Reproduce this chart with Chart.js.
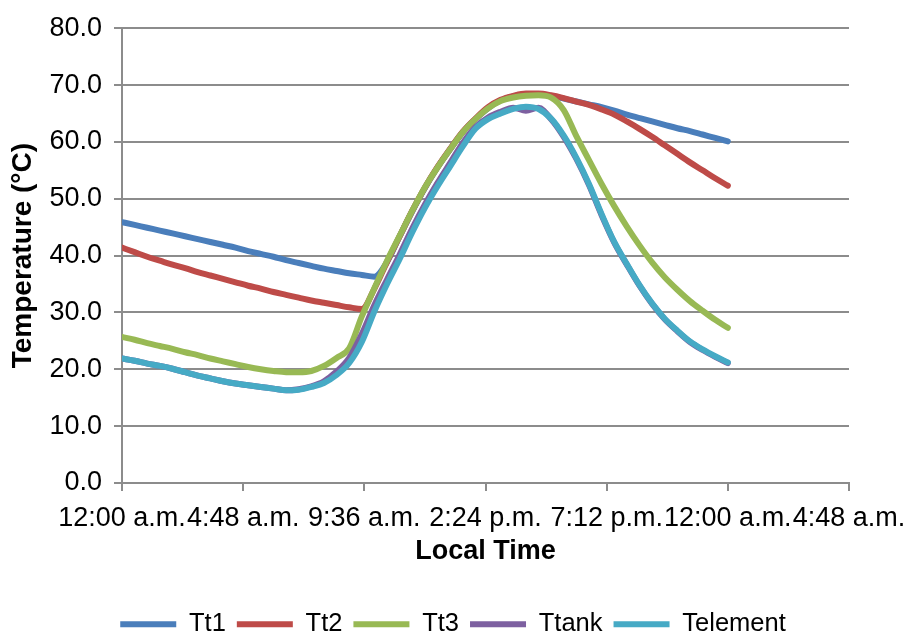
<!DOCTYPE html>
<html>
<head>
<meta charset="utf-8">
<title>Temperature vs Local Time</title>
<script src="https://cdn.jsdelivr.net/npm/chart.js@4/dist/chart.umd.min.js"></script>
<style>
  html, body { margin: 0; padding: 0; background: #ffffff; }
  canvas { display: block; }
</style>
</head>
<body>
<canvas id="chart" width="906" height="637"></canvas>
<script>
// Local time in hours since midnight
const hours = [
  0, 0.5, 1, 1.5, 2, 2.5, 3, 3.5, 4, 4.5, 5, 5.5, 6, 6.5, 7, 7.5, 8, 8.5, 9, 9.5,
  10, 10.5, 11, 11.5, 12, 12.5, 13, 13.5, 14, 14.5, 15, 15.5, 16, 16.5, 17, 17.5,
  18, 18.5, 19, 19.5, 20, 20.5, 21, 21.5, 22, 22.5, 23, 23.5, 24
];

// Temperatures (°C)
const tt1 = [
  45.9, 45.4, 44.9, 44.4, 43.9, 43.4, 42.9, 42.4, 41.9, 41.4, 40.8, 40.3, 39.8, 39.2, 38.7, 38.2, 37.7, 37.3, 36.9, 36.6,
  36.3, 38.9, 43.4, 47.8, 51.9, 55.5, 58.7, 61.7, 64.0, 65.9, 67.3, 68.0, 68.4, 68.4, 68.1, 67.6,
  67.1, 66.6, 66.1, 65.5, 64.8, 64.2, 63.6, 63.0, 62.4, 61.9, 61.3, 60.7, 60.1
];
const tt2 = [
  41.4, 40.6, 39.8, 39.1, 38.4, 37.8, 37.1, 36.5, 35.9, 35.3, 34.7, 34.2, 33.6, 33.1, 32.6, 32.1, 31.7, 31.3, 30.9, 30.6,
  34.2, 38.9, 43.4, 47.9, 52.0, 55.6, 58.8, 61.8, 64.1, 66.1, 67.4, 68.1, 68.5, 68.5, 68.2, 67.7,
  67.1, 66.5, 65.7, 64.8, 63.6, 62.3, 60.9, 59.4, 57.9, 56.4, 55.0, 53.6, 52.3
];
const tt3 = [
  25.7, 25.2, 24.6, 24.1, 23.6, 23.0, 22.5, 21.9, 21.4, 20.9, 20.4, 20.0, 19.7, 19.5, 19.5, 19.7, 20.6, 22.0, 23.7, 29.3,
  34.3, 39.1, 43.5, 47.9, 52.0, 55.5, 58.7, 61.7, 64.0, 65.9, 67.2, 67.8, 68.1, 68.2, 67.8, 65.6,
  61.0, 56.8, 52.6, 48.7, 45.1, 41.8, 38.8, 36.2, 34.0, 32.0, 30.3, 28.7, 27.3
];
const ttank = [
  21.9, 21.5, 21.0, 20.6, 20.1, 19.5, 18.9, 18.4, 17.9, 17.5, 17.2, 16.9, 16.6, 16.3, 16.5, 17.0, 17.9, 19.6, 22.0, 26.2,
  31.3, 35.8, 40.2, 44.8, 49.0, 52.8, 56.3, 59.8, 62.6, 64.3, 65.3, 66.0, 65.5, 66.0, 64.0, 60.9,
  57.0, 52.4, 47.1, 42.3, 38.4, 34.7, 31.5, 28.8, 26.7, 24.8, 23.4, 22.2, 21.1
];
const telement = [
  21.9, 21.5, 21.0, 20.6, 20.1, 19.5, 18.9, 18.4, 17.9, 17.5, 17.2, 16.9, 16.6, 16.3, 16.4, 16.9, 17.6, 19.0, 21.1, 24.8,
  30.2, 35.0, 39.4, 44.1, 48.4, 52.2, 55.7, 59.2, 62.3, 64.0, 65.0, 65.8, 66.2, 65.8, 64.1, 61.1,
  57.2, 52.6, 47.3, 42.4, 38.5, 34.8, 31.6, 28.9, 26.8, 24.9, 23.5, 22.3, 21.2
];

const seriesNames = ['Tt1', 'Tt2', 'Tt3', 'Ttank', 'Telement'];
const seriesValues = [tt1, tt2, tt3, ttank, telement];
const seriesColors = ['#4a7ebb', '#be4b48', '#98b954', '#7d60a0', '#46aac5'];

// Axis ticks: every 4 h 48 min on x, every 10 °C on y
const xTickHours = [0, 4.8, 9.6, 14.4, 19.2, 24, 28.8];
const yTickValues = [0, 10, 20, 30, 40, 50, 60, 70, 80];

const FONT = "'Liberation Sans', Arial, Helvetica, sans-serif";
const AXIS_GREY = '#8c8c8c';

function timeLabel(h) {
  const total = Math.round(h * 60) % 1440;
  let hh = Math.floor(total / 60);
  const mm = total % 60;
  const suffix = hh < 12 ? 'a.m.' : 'p.m.';
  hh = hh % 12;
  if (hh === 0) hh = 12;
  return hh + ':' + String(mm).padStart(2, '0') + ' ' + suffix;
}

const datasets = seriesNames.map((name, i) => ({
  label: name,
  data: hours.map((h, k) => ({ x: h, y: seriesValues[i][k] })),
  borderColor: seriesColors[i],
  backgroundColor: seriesColors[i],
  borderWidth: 6,
  borderCapStyle: 'round',
  borderJoinStyle: 'round',
  pointRadius: 0,
  pointHoverRadius: 0,
  fill: false,
  cubicInterpolationMode: 'monotone',
  order: seriesNames.length - i   // later series are painted on top
}));

new Chart(document.getElementById('chart'), {
  type: 'line',
  data: { datasets },
  options: {
    responsive: false,
    animation: false,
    devicePixelRatio: 1,
    layout: { padding: { top: 26, right: 0, bottom: -10, left: 0 } },
    plugins: {
      tooltip: { enabled: false },
      legend: {
        display: true,
        position: 'bottom',
        labels: {
          usePointStyle: true,
          pointStyle: 'line',
          pointStyleWidth: 56,
          padding: 11,
          color: '#000000',
          font: { family: FONT, size: 25.5 },
          sort: (a, b) => a.datasetIndex - b.datasetIndex
        }
      }
    },
    scales: {
      x: {
        type: 'linear',
        min: xTickHours[0],
        max: xTickHours[xTickHours.length - 1],
        afterBuildTicks: (scale) => { scale.ticks = xTickHours.map(v => ({ value: v })); },
        afterFit: (scale) => {
          scale.height = 117.5;
          scale.paddingLeft = 0;
          scale.paddingRight = 57;
        },
        grid: { drawOnChartArea: false, drawTicks: true, tickLength: 8, color: AXIS_GREY, lineWidth: 2 },
        border: { display: true, color: AXIS_GREY, width: 2 },
        ticks: {
          autoSkip: false,
          maxRotation: 0,
          minRotation: 0,
          padding: 11,
          color: '#000000',
          font: { family: FONT, size: 27 },
          callback: (v) => timeLabel(v)
        },
        title: {
          display: true,
          text: 'Local Time',
          color: '#000000',
          font: { family: FONT, size: 27, weight: 'bold' },
          padding: { top: 0, bottom: 33 }
        }
      },
      y: {
        type: 'linear',
        min: yTickValues[0],
        max: yTickValues[yTickValues.length - 1],
        afterBuildTicks: (scale) => { scale.ticks = yTickValues.map(v => ({ value: v })); },
        afterFit: (scale) => { scale.width = 122; },
        grid: { drawTicks: true, tickLength: 8, color: AXIS_GREY, lineWidth: 2 },
        border: { display: true, color: AXIS_GREY, width: 2 },
        ticks: {
          padding: 12,
          color: '#000000',
          font: { family: FONT, size: 27 },
          callback: (v) => Number(v).toFixed(1)
        },
        title: {
          display: true,
          text: 'Temperature (°C)',
          color: '#000000',
          font: { family: FONT, size: 28, weight: 'bold' },
          padding: { top: 6, bottom: 0 }
        }
      }
    }
  }
});
</script>
</body>
</html>
